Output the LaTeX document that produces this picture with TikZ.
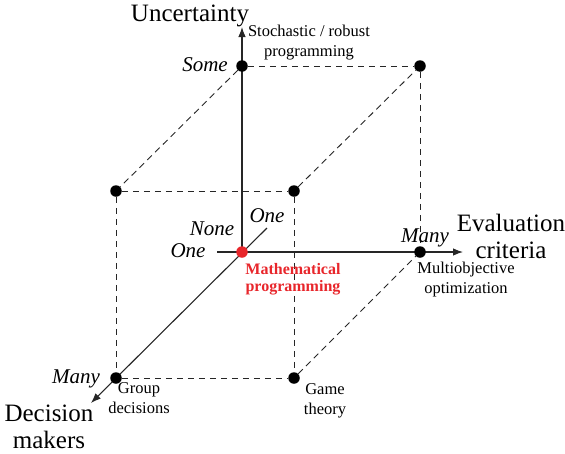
\documentclass[tikz,border=0pt]{standalone}
\usepackage{fontspec}
\setmainfont{Liberation Serif}
\usetikzlibrary{arrows.meta,backgrounds}
\definecolor{mpred}{HTML}{E8262B}

\begin{document}
\begin{tikzpicture}[x=1pt, y=-1pt]
\tikzset{
  dot/.style={circle, fill=black, inner sep=0pt, minimum size=11.5pt},
  axis/.style={-{Latex[length=10pt,width=7.5pt]}, line width=1.1pt, black!85},
  edge/.style={dash pattern=on 6.5pt off 4.5pt, line width=0.9pt, black!85},
  big/.style={anchor=base, font=\fontsize{25}{26.5}\selectfont, align=center},
  val/.style={anchor=base, font=\fontsize{21}{23}\selectfont\itshape},
  note/.style={anchor=base, font=\fontsize{16.5}{20}\selectfont, align=center},
}
\useasboundingbox (0,0) rectangle (565,453);

% corners of the cube
\node[dot, fill=mpred] (orig) at (242,252) {};
\node[dot] (some) at (242,66) {};
\node[dot] (back) at (420,66) {};
\node[dot] (upl) at (116,191) {};
\node[dot] (upr) at (294,191) {};
\node[dot] (evalmany) at (420,252) {};
\node[dot] (dmmany) at (116,378) {};
\node[dot] (game) at (294,378) {};

% axis ends
\coordinate (ytip) at (242,27);
\coordinate (xbeg) at (217,252);
\coordinate (xtip) at (463,252);
\coordinate (zbeg) at (267,228);
\coordinate (ztip) at (91,403);

\begin{scope}[on background layer]
\draw[axis] (orig.center) -- (ytip);
\draw[axis] (xbeg) -- (xtip);
\draw[axis] (zbeg) -- (ztip);
\draw[edge] (some) -- (back);
\draw[edge] (back) -- (evalmany);
\draw[edge] (some) -- (upl);
\draw[edge] (upl) -- (upr);
\draw[edge] (upr) -- (back);
\draw[edge] (upl) -- (dmmany);
\draw[edge] (upr) -- (game);
\draw[edge] (dmmany) -- (game);
\draw[edge] (game) -- (evalmany);
\end{scope}

% axis names (base = last line)
\node[big] (unc) at (190,21) {Uncertainty};
\node[big] (evcrit) at (511,258) {Evaluation\\criteria};
\node[big] (dmk) at (49,448) {Decision\\makers};

% axis values
\node[val] (vsome) at (205,71) {Some};
\node[val] (vnone) at (212,235) {None};
\node[val] (vonez) at (267,222) {One};
\node[val] (vonex) at (188,257) {One};
\node[val] (vmanyx) at (425,242) {Many};
\node[val] (vmanyz) at (76,383) {Many};

% fields
\node[note] (stoch) at (309,56) {Stochastic / robust\\programming};
\node[note] (multi) at (466,293) {Multiobjective\\optimization};
\node[note] (group) at (139,413) {Group\\decisions};
\node[note] (gthe) at (325,414) {Game\\theory};
\node[anchor=base, font=\fontsize{16}{17}\selectfont\bfseries, text=mpred, align=center] (mathprog) at (293,291) {Mathematical\\programming};
\end{tikzpicture}
\end{document}
